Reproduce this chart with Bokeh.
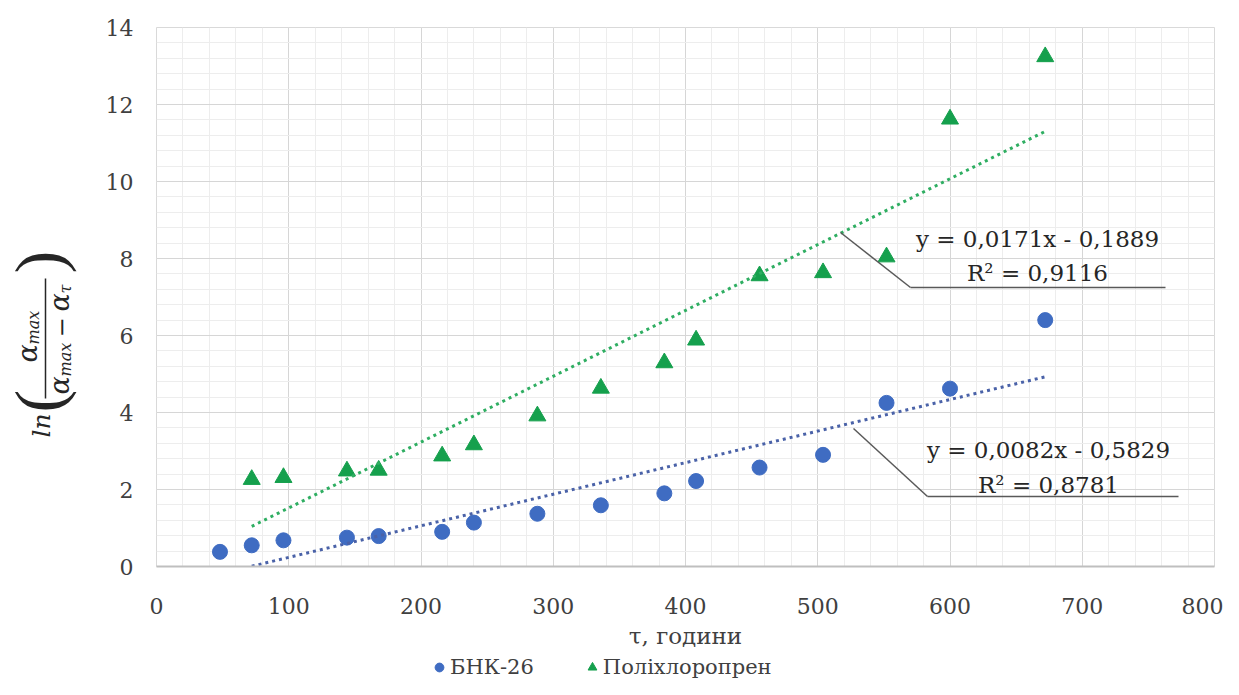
import math
from bokeh.plotting import figure
from bokeh.layouts import row, column
from bokeh.models import (Range1d, SingleIntervalTicker, Legend, LegendItem, Label, Arrow)
from bokeh.embed import file_html
from bokeh.resources import INLINE

# ---------------- data ----------------
hours_bnk = [48, 72, 96, 144, 168, 216, 240, 288, 336, 384, 408, 456, 504, 552, 600, 672]
ln_bnk = [0.38, 0.55, 0.68, 0.75, 0.79, 0.90, 1.14, 1.37, 1.59, 1.90, 2.22, 2.57, 2.90, 4.25, 4.62, 6.40]

hours_pcp = [72, 96, 144, 168, 216, 240, 288, 336, 384, 408, 456, 504, 552, 600, 672]
ln_pcp = [2.26, 2.31, 2.48, 2.50, 2.87, 3.16, 3.91, 4.63, 5.29, 5.88, 7.55, 7.63, 8.04, 11.62, 13.24]

series_names = ["БНК-26", "Поліхлоропрен"]
trend_x = [72, 672]
bnk_fit = (0.0082, -0.5829)
pcp_fit = (0.0171, -0.1889)
bnk_eq = ["y = 0,0082x - 0,5829", "R² = 0,8781"]
pcp_eq = ["y = 0,0171x - 0,1889", "R² = 0,9116"]

x_label = "τ, години"

# ---------------- styling ----------------
SERIF = "DejaVu Serif"
BLUE = "#3f6cc2"
GREEN = "#15a04d"
BLUE_TREND = "#4a62a8"
GREEN_TREND = "#2fae62"
TEXT = "#404040"
INK = "#262626"

TOTAL_W, TOTAL_H = 1223, 679
LW = 90                       # width of the strip holding the y-axis title
LEG_H = 25                    # height of the strip holding the legend
W = TOTAL_W - LW
H = TOTAL_H - LEG_H
BL, BR, BT = 66, 9, 27
BB = H - BT - 539
X0, X1, Y0, Y1 = 0, 800, 0, 14

p = figure(width=W, height=H, output_backend="svg", toolbar_location=None,
           x_range=Range1d(X0, X1), y_range=Range1d(Y0, Y1),
           min_border_left=BL, min_border_right=BR, min_border_top=BT, min_border_bottom=BB)
p.background_fill_color = "white"
p.border_fill_color = "white"
p.outline_line_color = "#d9d9d9"

# frame geometry in picture pixels, used to place the annotations
FL = LW + BL
FB = BT + (H - BT - BB)
PXX = (W - BL - BR) / (X1 - X0)
PXY = (H - BT - BB) / (Y1 - Y0)


def img2d(px, py):
    """picture pixel -> data coords of the main plot"""
    return (X0 + (px - FL) / PXX, Y0 + (FB - py) / PXY)


xt = SingleIntervalTicker(interval=100, num_minor_ticks=5)
yt = SingleIntervalTicker(interval=2, num_minor_ticks=5)
p.xaxis.ticker = xt
p.yaxis.ticker = yt
p.xgrid.ticker = xt
p.ygrid.ticker = yt
for g in (p.xgrid, p.ygrid):
    g.grid_line_color = "#d6d6d6"
    g.grid_line_width = 1
    g.minor_grid_line_color = "#ededed"
    g.minor_grid_line_width = 1

for ax in (p.xaxis, p.yaxis):
    ax.major_tick_line_color = None
    ax.minor_tick_line_color = None
    ax.major_tick_out = 0
    ax.minor_tick_out = 0
    ax.major_tick_in = 0
    ax.minor_tick_in = 0
    ax.major_label_text_font = SERIF
    ax.major_label_text_font_size = "22px"
    ax.major_label_text_color = TEXT
p.yaxis.axis_line_color = None
p.xaxis.axis_line_color = "#bfbfbf"
p.xaxis.axis_line_width = 2
p.xaxis.major_label_standoff = 31
p.yaxis.major_label_standoff = 23
p.xaxis.axis_label = x_label
p.xaxis.axis_label_text_font = SERIF
p.xaxis.axis_label_text_font_size = "23px"
p.xaxis.axis_label_text_font_style = "normal"
p.xaxis.axis_label_text_color = TEXT
p.xaxis.axis_label_standoff = 6

# ---------------- markers ----------------
p.scatter(hours_bnk, ln_bnk, marker="circle", size=15, fill_color=BLUE, line_color=BLUE)
p.scatter(hours_pcp, ln_pcp, marker="triangle", size=17, fill_color=GREEN, line_color=GREEN)

# ---------------- trend lines ----------------
for (k, b), col in ((bnk_fit, BLUE_TREND), (pcp_fit, GREEN_TREND)):
    p.line(trend_x, [k * x + b for x in trend_x], line_color=col, line_width=3, line_dash="3 4")

# ---------------- equation labels with leader lines ----------------
def leader(points):
    for (ax_, ay_), (bx_, by_) in zip(points[:-1], points[1:]):
        xs, ys = img2d(ax_, ay_)
        xe, ye = img2d(bx_, by_)
        p.add_layout(Arrow(end=None, x_start=xs, y_start=ys, x_end=xe, y_end=ye,
                           line_color="#595959", line_width=1.5))

leader([(840, 232), (910, 287), (1165, 287)])
leader([(853, 428), (927, 496), (1178, 496)])

for lines, cx, centers in ((pcp_eq, 1037, (238, 272)), (bnk_eq, 1048, (449, 484))):
    for t, cy in zip(lines, centers):
        lx, ly = img2d(cx, cy)
        p.add_layout(Label(x=lx, y=ly, text=t, text_align="center", text_baseline="middle",
                           text_font=SERIF, text_font_size="23px", text_color=INK))


def blank(fig):
    fig.axis.visible = False
    fig.grid.visible = False
    fig.outline_line_color = None
    fig.background_fill_color = "white"
    fig.border_fill_color = "white"


# ---------------- legend strip ----------------
leg = figure(width=W, height=LEG_H, output_backend="svg", toolbar_location=None,
             x_range=Range1d(0, W), y_range=Range1d(0, LEG_H),
             min_border_left=BL, min_border_right=BR, min_border_top=0, min_border_bottom=0)
blank(leg)
g1 = leg.scatter([-100], [-100], marker="circle", size=15, fill_color=BLUE, line_color=BLUE)
g2 = leg.scatter([-100], [-100], marker="triangle", size=17, fill_color=GREEN, line_color=GREEN)
legend = Legend(items=[LegendItem(label=series_names[0], renderers=[g1]),
                       LegendItem(label=series_names[1], renderers=[g2])],
                orientation="horizontal", location=(428 - FL, 0),
                padding=0, margin=0, spacing=47, glyph_width=22, glyph_height=24,
                label_height=24, label_standoff=-2, border_line_color=None,
                background_fill_alpha=0, label_text_font=SERIF,
                label_text_font_size="21px", label_text_color=TEXT)
leg.add_layout(legend)

# ---------------- y axis title strip: ln( a_max / (a_max - a_tau) ) ----------------
q = figure(width=LW, height=TOTAL_H, output_backend="svg", toolbar_location=None,
           x_range=Range1d(0, LW), y_range=Range1d(TOTAL_H, 0),
           min_border_left=0, min_border_right=0, min_border_top=0, min_border_bottom=0)
blank(q)

# (text, centre x, start y, size, style, font)
ypieces = [
    ("ln", 41, 437, 25, "italic", SERIF),
    ("(", 38, 412, 68, "normal", "Liberation Serif"),
    ("α", 27, 362, 27, "italic", SERIF),
    ("max", 33, 344, 16, "italic", SERIF),
    ("α", 59, 394, 27, "italic", SERIF),
    ("max", 65, 376, 16, "italic", SERIF),
    ("−", 60, 337, 24, "normal", SERIF),
    ("α", 59, 311, 27, "italic", SERIF),
    ("τ", 65, 293, 16, "italic", SERIF),
    (")", 38, 273, 68, "normal", "Liberation Serif"),
]
for t, cx, sy, fs, st, fnt in ypieces:
    q.add_layout(Label(x=cx, y=sy, text=t, angle=math.pi / 2, text_align="left",
                       text_baseline="middle", text_font=fnt, text_font_size=f"{fs}px",
                       text_font_style=st, text_color=INK))
q.segment(x0=[45], y0=[398], x1=[45], y1=[278], line_color=INK, line_width=1.5)

layout = row(q, column(p, leg, spacing=0), spacing=0)
open("out.html", "w").write(file_html(layout, INLINE))
